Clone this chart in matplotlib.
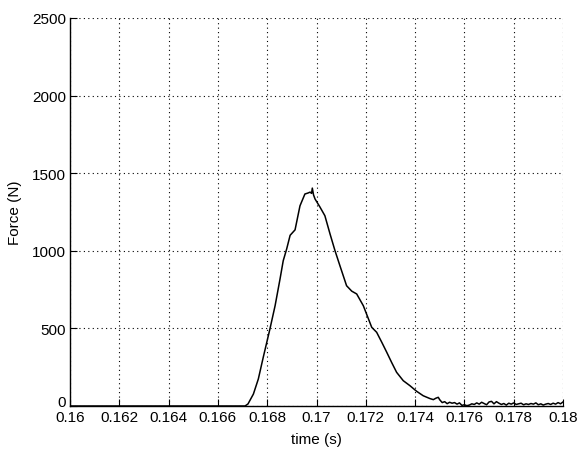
import numpy as np
import matplotlib
matplotlib.use('Agg')
import matplotlib.pyplot as plt
import matplotlib.transforms as mtrans

# 力の時間変化 (読み取り値)
time_s = [0.1600, 0.1671, 0.16722, 0.16744, 0.16764, 0.16784, 0.16811, 0.16832,
          0.16852, 0.16865, 0.16879, 0.16893, 0.16913, 0.16933, 0.16953, 0.16965,
          0.16974, 0.16980, 0.16983, 0.16988, 0.16994, 0.17014, 0.17034, 0.17055,
          0.17075, 0.17095, 0.17122, 0.17143, 0.17163, 0.17190, 0.17224, 0.17244,
          0.17265, 0.17285, 0.17305, 0.17325, 0.17352, 0.17379, 0.17406, 0.17433,
          0.17460, 0.17474, 0.17484, 0.17494,
          0.1750, 0.1751, 0.1752, 0.1753, 0.1754, 0.1755, 0.1756, 0.1757, 0.1758, 0.1759,
          0.1760, 0.1761, 0.1762, 0.1763, 0.1764, 0.1765, 0.1766, 0.1767, 0.1768, 0.1769,
          0.1770, 0.1771, 0.1772, 0.1773, 0.1774, 0.1775, 0.1776, 0.1777, 0.1778, 0.1779,
          0.1780, 0.1781, 0.1782, 0.1783, 0.1784, 0.1785, 0.1786, 0.1787, 0.1788, 0.1789,
          0.1790, 0.1791, 0.1792, 0.1793, 0.1794, 0.1795, 0.1796, 0.1797, 0.1798, 0.1799,
          0.1800]
force_n = [0, 0, 13, 77, 174, 314, 496, 646,
           818, 936, 1012, 1100, 1135, 1290, 1366, 1372,
           1378, 1370, 1404, 1360, 1334, 1282, 1226, 1108,
           1001, 904, 775, 740, 722, 646, 507, 475,
           410, 346, 280, 217, 163, 131, 95, 66,
           48, 41, 50, 56,
           40, 22, 28, 15, 24, 18, 22, 12, 20, 4,
           8, 2, 6, 14, 10, 20, 12, 24, 16, 8,
           26, 30, 14, 28, 18, 10, 16, 6, 18, 12,
           20, 10, 14, 18, 8, 14, 10, 16, 12, 20,
           8, 14, 6, 12, 16, 10, 18, 12, 22, 14,
           26]

x_ticks = [0.16, 0.162, 0.164, 0.166, 0.168, 0.17, 0.172, 0.174, 0.176, 0.178, 0.18]
x_labels = ["0.16", "0.162", "0.164", "0.166", "0.168", "0.17", "0.172", "0.174", "0.176", "0.178", "0.18"]
y_ticks = [0, 500, 1000, 1500, 2000, 2500]

plt.rcParams['font.family'] = ['Liberation Sans', 'DejaVu Sans']
plt.rcParams['font.size'] = 11

fig = plt.figure(figsize=(5.81, 4.52), dpi=100)
ax = fig.add_axes([70 / 581, 1 - 407 / 452, 493 / 581, 388 / 452])

ax.plot(time_s, force_n, color="black", linewidth=1.1)

ax.set_xlim(0.16, 0.18)
ax.set_ylim(0, 2500)
ax.set_xticks(x_ticks)
ax.set_xticklabels(x_labels)
ax.set_yticks(y_ticks)
ax.tick_params(direction="in", length=5, width=0.8)
ax.tick_params(axis="x", pad=3)
ax.tick_params(axis="y", pad=3)
ax.grid(True, linestyle=(0, (1, 3)), color="black", linewidth=0.8)

# y軸の"0"を少し上にずらす (MATLAB風)
lbl0 = ax.get_yticklabels()[0]
lbl0.set_transform(lbl0.get_transform() + mtrans.ScaledTranslation(0, 5 / 100, fig.dpi_scale_trans))

# 上と右の枠は無し
ax.spines["top"].set_visible(False)
ax.spines["right"].set_visible(False)
ax.spines["left"].set_linewidth(1.0)
ax.spines["bottom"].set_linewidth(1.0)

ax.set_xlabel("time (s)", labelpad=6)
ax.set_ylabel("Force (N)", labelpad=7)

plt.savefig("out.png", dpi=100, facecolor="white")
